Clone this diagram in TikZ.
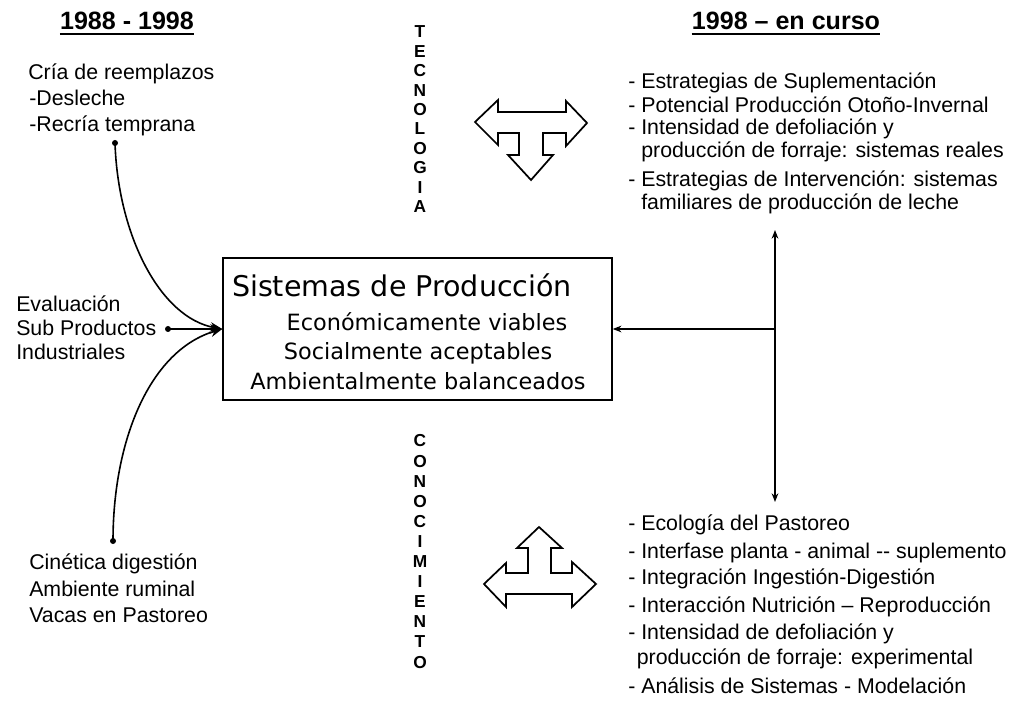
\documentclass[tikz,border=0pt]{standalone}
\usepackage{fontspec}
\setmainfont{Liberation Sans}
\newfontfamily\boxfont{DejaVu Sans}
\usetikzlibrary{arrows.meta}
\begin{document}
\begin{tikzpicture}[x=0.75pt,y=-0.75pt,
  txt/.style={anchor=base west,inner sep=0,font=\fontsize{16}{18}\selectfont},
  headtxt/.style={anchor=base,inner sep=0,font=\fontsize{18.8}{22}\selectfont\bfseries},
  vlet/.style={inner sep=0,font=\fontsize{13}{14}\selectfont\bfseries},
  boxtitle/.style={anchor=base,inner sep=0,font=\boxfont\fontsize{21.4}{24}\selectfont},
  boxsub/.style={anchor=base,inner sep=0,font=\boxfont\fontsize{16.8}{20}\selectfont},
  dotnode/.style={circle,fill=black,inner sep=0,minimum size=4.5pt},
  conn/.style={line width=1.2pt},
  bigtip/.style={-{Stealth[length=9pt,width=7pt]}},
  smalltip/.style={-{Stealth[length=6.5pt,width=5pt]}},
  fatarrow/.style={line width=1.3pt,line join=miter,fill=white},
]
\useasboundingbox (0,0) rectangle (1009,705);
\fill[white] (0,0) rectangle (1009,705);

% headings
\node[headtxt] (h1) at (127,30) {1988 - 1998};
\draw[line width=1.4pt] ([yshift=-2.8pt]h1.base west) -- ([yshift=-2.8pt]h1.base east);
\node[headtxt] (h2) at (786,30) {1998 – en curso};
\draw[line width=1.4pt] ([yshift=-2.8pt]h2.base west) -- ([yshift=-2.8pt]h2.base east);

% vertical words
\foreach \l [count=\i] in {T,E,C,N,O,L,O,G,I,A}
  \node[vlet] (tec\i) at (420,{32+19.4*(\i-1)}) {\l};
\foreach \l [count=\i] in {C,O,N,O,C,I,M,I,E,N,T,O}
  \node[vlet] (con\i) at (420,{441+20.1*(\i-1)}) {\l};

% central box
\node[draw,line width=1.1pt,minimum width=291.75pt,minimum height=106.5pt,inner sep=0] (box) at (417.5,329) {};
\node[boxtitle] (bt) at (402,297) {Sistemas de Producción};
\node[boxsub] (bs1) at (427,331) {Económicamente viables};
\node[boxsub] (bs2) at (418,360) {Socialmente aceptables};
\node[boxsub] (bs3) at (418,389) {Ambientalmente balanceados};

% left texts
\node[txt] (la1) at (28,80) {Cría de reemplazos};
\node[txt] (la2) at (29,106) {-Desleche};
\node[txt] (la3) at (29,132) {-Recría temprana};
\node[txt] (lb1) at (16,312) {Evaluación};
\node[txt] (lb2) at (16,336) {Sub Productos};
\node[txt] (lb3) at (16,360) {Industriales};
\node[txt] (lc1) at (29,569) {Cinética digestión};
\node[txt] (lc2) at (29,596) {Ambiente ruminal};
\node[txt] (lc3) at (29,622) {Vacas en Pastoreo};

% left connectors
\node[dotnode] (d1) at (115,143) {};
\node[dotnode] (d2) at (168,329) {};
\node[dotnode] (d3) at (113,541) {};
\draw[conn,bigtip] (d1.center) .. controls (118,235) and (160,318) .. (box.west);
\draw[conn,bigtip] (d2.center) -- (box.west);
\draw[conn,bigtip] (d3.center) .. controls (113,440) and (150,350) .. (box.west);

% right lists
\node[txt] (r1) at (628,88.5) {- Estrategias de Suplementación};
\node[txt] (r2) at (628,112.5) {- Potencial Producción Otoño-Invernal};
\node[txt] (r3) at (628,135) {- Intensidad de defoliación y};
\node[txt] (r4) at (628,158) {\hspace{0.611em}producción de forraje: sistemas reales};
\node[txt] (r5) at (628,186.5) {- Estrategias de Intervención: sistemas};
\node[txt] (r6) at (628,210) {\hspace{0.611em}familiares de producción de leche};

\node[txt] (s1) at (628,530.5) {- Ecología del Pastoreo};
\node[txt] (s2) at (628,558.5) {- Interfase planta - animal -{}- suplemento};
\node[txt] (s3) at (628,584.5) {- Integración Ingestión-Digestión};
\node[txt] (s4) at (628,612.5) {- Interacción Nutrición – Reproducción};
\node[txt] (s5) at (628,639.5) {- Intensidad de defoliación y};
\node[txt] (s6) at (628,664.5) {\hspace{0.4em}producción de forraje: experimental};
\node[txt] (s7) at (628,693) {- Análisis de Sistemas - Modelación};

% right connectors
\coordinate (jn) at (775,329);
\coordinate (vt) at (775,230);
\coordinate (vb) at (775,502);
\draw[conn,smalltip] (jn) -- (box.east);
\draw[conn,{Stealth[length=6.5pt,width=5pt]}-{Stealth[length=6.5pt,width=5pt]}] (vt) -- (vb);

% fat arrows
\draw[fatarrow] (475,122) -- (498,100) -- (498,112) -- (566,112) -- (566,101) -- (587,123)
  -- (566,146) -- (566,133) -- (543,133) -- (543,155) -- (553,155) -- (531,180)
  -- (508,155) -- (519,155) -- (519,133) -- (498,133) -- (498,145) -- cycle;
\draw[fatarrow] (539,527) -- (562,548) -- (551,548) -- (551,573) -- (572,573) -- (572,562)
  -- (596,584) -- (572,607) -- (572,594) -- (506,594) -- (506,607) -- (484,584)
  -- (506,563) -- (506,573) -- (528,573) -- (528,548) -- (517,548) -- cycle;
\end{tikzpicture}
\end{document}
